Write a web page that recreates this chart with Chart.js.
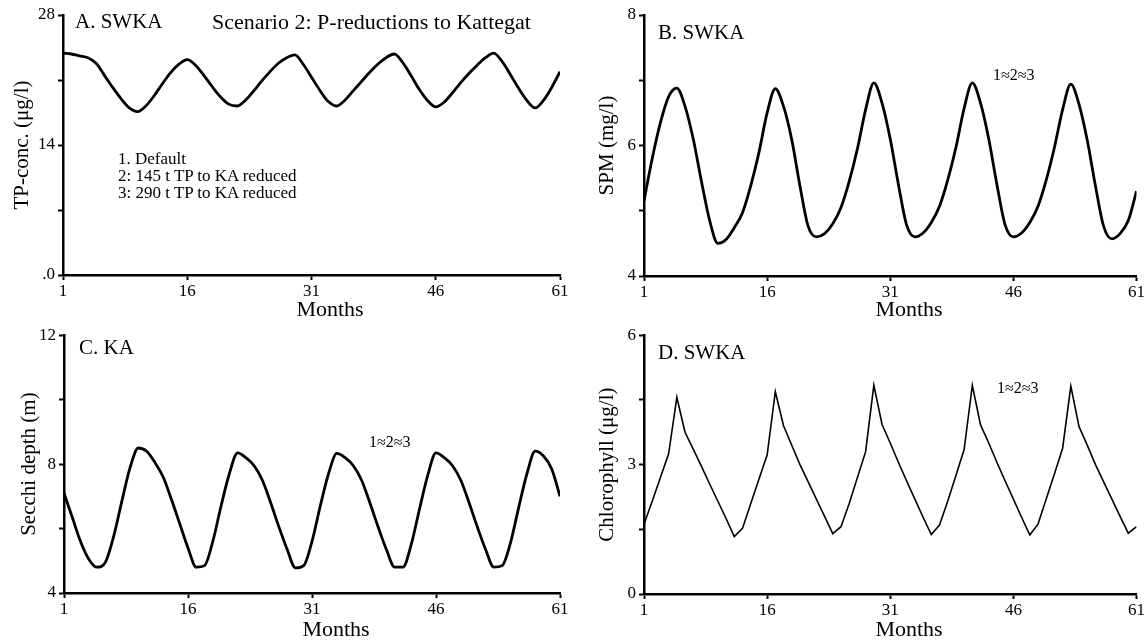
<!DOCTYPE html>
<html>
<head>
<meta charset="utf-8">
<script src="https://cdn.jsdelivr.net/npm/chart.js@4.4.1/dist/chart.umd.min.js"></script>
<style>
  body { margin: 0; background: #fff; width: 1146px; height: 642px; position: relative; overflow: hidden;
         font-family: "Liberation Serif", "Times New Roman", serif; color: #000; }
  .panel { position: absolute; }
  .note { position: absolute; white-space: nowrap; line-height: 1; }
  .months { position: absolute; width: 120px; text-align: center; font-size: 22px; line-height: 1; }
</style>
</head>
<body>
<div class="panel" style="left:0;top:0;width:573px;height:322px"><canvas id="chartA"></canvas></div>
<div class="panel" style="left:573px;top:0;width:573px;height:322px"><canvas id="chartB"></canvas></div>
<div class="panel" style="left:0;top:322px;width:573px;height:320px"><canvas id="chartC"></canvas></div>
<div class="panel" style="left:573px;top:322px;width:573px;height:320px"><canvas id="chartD"></canvas></div>

<div class="note" style="left:75px;top:11px;font-size:21px">A. SWKA</div>
<div class="note" style="left:212px;top:11px;font-size:22px">Scenario 2: P-reductions to Kattegat</div>
<div class="note" style="left:118px;top:150px;font-size:17px;line-height:17px">1. Default<br>2: 145 t TP to KA reduced<br>3: 290 t TP to KA reduced</div>
<div class="note" style="left:658px;top:22px;font-size:21px">B. SWKA</div>
<div class="note" style="left:993px;top:67px;font-size:16px">1≈2≈3</div>
<div class="note" style="left:79px;top:337px;font-size:21px">C. KA</div>
<div class="note" style="left:369px;top:434px;font-size:16px">1≈2≈3</div>
<div class="note" style="left:658px;top:342px;font-size:21px">D. SWKA</div>
<div class="note" style="left:997px;top:380px;font-size:16px">1≈2≈3</div>
<div class="months" style="left:270px;top:298px">Months</div>
<div class="months" style="left:849px;top:298px">Months</div>
<div class="months" style="left:276px;top:618px">Months</div>
<div class="months" style="left:849px;top:618px">Months</div>

<script>
const months = [1, 2, 3, 4, 5, 6, 7, 8, 9, 10, 11, 12, 13, 14, 15, 16, 17, 18, 19, 20,
  21, 22, 23, 24, 25, 26, 27, 28, 29, 30, 31, 32, 33, 34, 35, 36, 37, 38, 39, 40,
  41, 42, 43, 44, 45, 46, 47, 48, 49, 50, 51, 52, 53, 54, 55, 56, 57, 58, 59, 60, 61];
const monthTicks = [1, 16, 31, 46, 61];

// A. total phosphorus, scenarios 1-3 coincide
const tpConc = [23.9, 23.8, 23.6, 23.4, 22.8, 21.5, 20.2, 19.0, 18.0, 17.6,
  18.2, 19.3, 20.6, 21.8, 22.7, 23.2, 22.6, 21.5, 20.3, 19.2,
  18.4, 18.2, 18.8, 19.8, 20.9, 21.9, 22.8, 23.4, 23.7, 22.7,
  21.3, 19.9, 18.7, 18.2, 18.8, 19.8, 20.8, 21.8, 22.7, 23.4,
  23.8, 22.9, 21.5, 20.0, 18.8, 18.1, 18.6, 19.6, 20.7, 21.7,
  22.6, 23.4, 23.9, 23.0, 21.6, 20.1, 18.8, 18.0, 18.8, 20.2, 21.9];

// B. suspended particulate matter
const spm = [5.15, 5.8, 6.35, 6.75, 6.88, 6.6, 6.1, 5.45, 4.85, 4.5,
  4.56, 4.74, 4.97, 5.38, 5.89, 6.5, 6.87, 6.6, 6.09, 5.38,
  4.76, 4.6, 4.65, 4.8, 5.05, 5.45, 5.95, 6.55, 6.96, 6.65,
  6.1, 5.4, 4.78, 4.6, 4.66, 4.82, 5.07, 5.47, 5.97, 6.57,
  6.96, 6.65, 6.1, 5.4, 4.78, 4.6, 4.66, 4.82, 5.07, 5.47,
  5.97, 6.55, 6.94, 6.63, 6.08, 5.38, 4.76, 4.57, 4.65, 4.85, 5.3];

// C. Secchi depth
const secchi = [7.1, 6.35, 5.6, 5.05, 4.8, 4.95, 5.75, 6.85, 7.9, 8.5,
  8.4, 8.05, 7.6, 6.9, 6.15, 5.4, 4.8, 4.85, 5.6, 6.7,
  7.7, 8.35, 8.2, 7.95, 7.5, 6.8, 6.05, 5.35, 4.78, 4.85,
  5.6, 6.7, 7.7, 8.33, 8.2, 7.95, 7.5, 6.8, 6.05, 5.35,
  4.8, 4.8, 5.5, 6.6, 7.65, 8.35, 8.2, 7.95, 7.5, 6.8,
  6.05, 5.35, 4.8, 4.85, 5.55, 6.65, 7.7, 8.4, 8.25, 7.85, 7.0];

// D. chlorophyll
const chl = [1.62, 2.15, 2.7, 3.25, 4.56, 3.75, 3.36, 2.96, 2.55, 2.15,
  1.75, 1.33, 1.52, 2.09, 2.66, 3.22, 4.69, 3.9, 3.45, 3.0,
  2.6, 2.2, 1.8, 1.4, 1.56, 2.1, 2.7, 3.3, 4.84, 3.93,
  3.5, 3.05, 2.62, 2.2, 1.78, 1.38, 1.6, 2.15, 2.75, 3.35,
  4.84, 3.92, 3.5, 3.05, 2.62, 2.2, 1.78, 1.37, 1.62, 2.2,
  2.78, 3.38, 4.82, 3.88, 3.45, 3.0, 2.6, 2.2, 1.8, 1.41, 1.56];

const tpTickValues = [0, 14, 28];
const tpTickLabels = ['.0', '14', '28'];
const spmTickValues = [4, 6, 8];
const spmTickLabels = ['4', '6', '8'];
const secchiTickValues = [4, 8, 12];
const secchiTickLabels = ['4', '8', '12'];
const chlTickValues = [0, 3, 6];
const chlTickLabels = ['0', '3', '6'];

const serif = '"Liberation Serif", "Times New Roman", serif';

function makeChart(id, values, cfg) {
  const ctx = document.getElementById(id).getContext('2d');
  return new Chart(ctx, {
    type: 'line',
    data: {
      datasets: [{
        label: '1≈2≈3',
        data: months.map((m, i) => ({ x: m, y: values[i] })),
        borderColor: '#000',
        borderWidth: cfg.lineWidth,
        pointRadius: 0,
        tension: cfg.tension,
        cubicInterpolationMode: cfg.tension ? 'monotone' : 'default',
        fill: false
      }]
    },
    options: {
      responsive: true,
      maintainAspectRatio: false,
      animation: false,
      layout: { padding: { top: cfg.top, right: cfg.right, left: 0, bottom: 0 } },
      plugins: { legend: { display: false }, tooltip: { enabled: false } },
      scales: {
        x: {
          type: 'linear',
          min: 1,
          max: 61,
          afterBuildTicks: axis => { axis.ticks = monthTicks.map(v => ({ value: v })); },
          afterFit: s => { s.height = cfg.xHeight; },
          ticks: { autoSkip: false, maxRotation: 0, padding: 1, color: '#000',
                   font: { family: serif, size: 17 }, callback: v => String(v) },
          grid: { drawOnChartArea: false, drawTicks: true, tickLength: 5, tickWidth: 2, tickColor: '#000' },
          border: { display: true, color: '#000', width: 2.5 }
        },
        y: {
          min: cfg.min,
          max: cfg.max,
          afterFit: s => { s.width = cfg.yWidth; },
          ticks: {
            stepSize: cfg.step, padding: 3, color: '#000', font: { family: serif, size: 17 },
            callback: v => {
              const i = cfg.tickValues.indexOf(v);
              return i < 0 ? '' : cfg.tickLabels[i];
            }
          },
          grid: { drawOnChartArea: false, drawTicks: true, tickLength: 5, tickWidth: 2, tickColor: '#000' },
          border: { display: true, color: '#000', width: 2.5 },
          title: { display: true, text: cfg.title, color: '#000',
                   font: { family: serif, size: 21, lineHeight: 1 },
                   padding: { top: cfg.titlePad, bottom: 0 } }
        }
      }
    }
  });
}

makeChart('chartA', tpConc, {
  min: 0, max: 28, step: 7, tickValues: tpTickValues, tickLabels: tpTickLabels,
  title: 'TP-conc. (\u03bcg/l)', titlePad: 12, lineWidth: 2.8, tension: 0.4,
  top: 15, right: 13, yWidth: 63, xHeight: 47
});
makeChart('chartB', spm, {
  min: 4, max: 8, step: 1, tickValues: spmTickValues, tickLabels: spmTickLabels,
  title: 'SPM (mg/l)', titlePad: 24, lineWidth: 2.8, tension: 0.4,
  top: 15, right: 6, yWidth: 71, xHeight: 46
});
makeChart('chartC', secchi, {
  min: 4, max: 12, step: 2, tickValues: secchiTickValues, tickLabels: secchiTickLabels,
  title: 'Secchi depth (m)', titlePad: 19, lineWidth: 2.8, tension: 0.4,
  top: 12, right: 13, yWidth: 64, xHeight: 49
});
makeChart('chartD', chl, {
  min: 0, max: 6, step: 1.5, tickValues: chlTickValues, tickLabels: chlTickLabels,
  title: 'Chlorophyll (\u03bcg/l)', titlePad: 24, lineWidth: 1.6, tension: 0,
  top: 13, right: 6, yWidth: 71, xHeight: 48
});
</script>
</body>
</html>
